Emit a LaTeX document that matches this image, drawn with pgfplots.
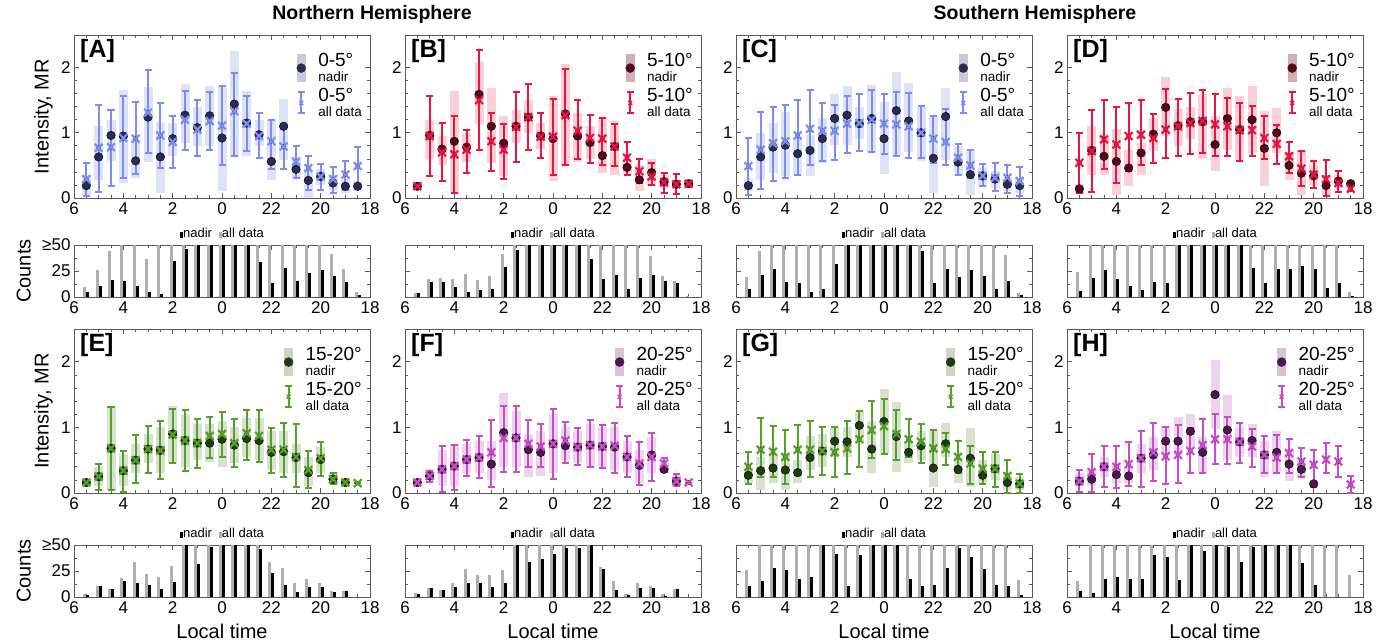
\documentclass[border=0pt]{standalone}
\usepackage{fontspec}
\setmainfont{Liberation Sans}
\usepackage{pgfplots}
\pgfplotsset{compat=1.18}
\usepackage{pgfplotstable}

\definecolor{allA}{RGB}{125,140,240}
\definecolor{nadA}{RGB}{42,42,85}
\definecolor{shA}{RGB}{221,226,246}
\definecolor{lgA}{RGB}{200,202,214}
\definecolor{allB}{RGB}{235,20,65}
\definecolor{nadB}{RGB}{85,10,25}
\definecolor{shB}{RGB}{249,208,216}
\definecolor{lgB}{RGB}{205,175,180}
\definecolor{allE}{RGB}{85,160,40}
\definecolor{nadE}{RGB}{30,60,15}
\definecolor{shE}{RGB}{216,224,208}
\definecolor{lgE}{RGB}{205,212,198}
\definecolor{allF}{RGB}{200,75,200}
\definecolor{nadF}{RGB}{75,25,75}
\definecolor{shF}{RGB}{237,212,237}
\definecolor{lgF}{RGB}{215,195,212}
\definecolor{frame}{RGB}{90,90,90}
\definecolor{cgray}{RGB}{175,175,175}

% intensity tables: x n nlo nhi (nadir, shaded range) a alo ahi (all data, error bar)
\pgfplotstableread{
x n nlo nhi a alo ahi
0.5 0.19 0.05 0.33 0.29 0.03 0.54
1.0 0.63 0.28 1.10 0.77 0.09 1.42
1.5 0.96 0.57 1.20 0.78 0.19 1.35
2.0 0.95 0.23 1.66 0.92 0.30 1.56
2.5 0.57 0.30 0.90 0.91 0.37 1.47
3.0 1.24 0.55 1.70 1.31 0.69 1.96
3.5 0.63 0.07 1.16 0.96 0.46 1.45
4.0 0.91 0.64 1.15 0.86 0.46 1.26
4.5 1.27 0.85 1.75 1.20 0.74 1.64
5.0 1.08 0.80 1.40 1.05 0.64 1.51
5.5 1.26 0.80 1.72 1.18 0.74 1.63
6.0 0.92 0.10 1.72 1.11 0.51 1.72
6.5 1.44 0.63 2.25 1.33 0.64 1.92
7.0 1.15 0.65 1.64 1.14 0.72 1.57
7.5 0.97 0.80 1.20 0.95 0.62 1.31
8.0 0.56 0.28 1.20 0.87 0.44 1.20
8.5 1.10 0.59 1.52 0.79 0.45 1.10
9.0 0.44 0.30 0.60 0.56 0.31 0.79
9.5 0.27 0.00 0.45 0.46 0.13 0.65
10.0 0.33 0.20 0.45 0.33 0.13 0.52
10.5 0.23 0.10 0.35 0.29 0.08 0.48
11.0 0.18 0.08 0.30 0.36 0.12 0.56
11.5 0.18 0.10 0.26 0.49 0.20 0.78
}\dA
\pgfplotstableread{
x n nlo nhi a alo ahi
0.5 0.18 0.15 0.21 0.18 0.15 0.21
1.0 0.96 0.60 1.20 0.95 0.34 1.57
1.5 0.75 0.50 0.95 0.70 0.26 1.15
2.0 0.87 0.08 1.64 0.67 0.08 1.26
2.5 0.78 0.55 1.00 0.74 0.39 1.04
3.0 1.59 1.13 2.08 1.50 0.73 2.27
3.5 1.10 0.54 1.69 0.87 0.42 1.31
4.0 0.84 0.33 1.26 0.74 0.29 1.14
4.5 1.10 0.85 1.35 1.09 0.55 1.63
5.0 1.24 1.00 1.50 1.24 0.74 1.75
5.5 0.95 0.75 1.15 0.94 0.62 1.31
6.0 0.91 0.26 1.56 0.94 0.36 1.52
6.5 1.29 0.51 2.06 1.27 0.51 1.98
7.0 0.95 0.55 1.30 1.03 0.60 1.50
7.5 0.85 0.60 1.10 0.92 0.54 1.28
8.0 0.65 0.38 1.22 0.91 0.51 1.22
8.5 0.79 0.36 1.18 0.79 0.49 1.13
9.0 0.47 0.35 0.60 0.62 0.36 0.86
9.5 0.28 0.10 0.50 0.41 0.23 0.60
10.0 0.39 0.20 0.60 0.33 0.20 0.53
10.5 0.25 0.15 0.35 0.24 0.08 0.39
11.0 0.21 0.15 0.28 0.21 0.06 0.37
11.5 0.22 0.18 0.26 0.22 0.18 0.26
}\dB
\pgfplotstableread{
x n nlo nhi a alo ahi
0.5 0.19 0.10 0.30 0.49 0.04 0.92
1.0 0.63 0.28 1.00 0.74 0.14 1.32
1.5 0.78 0.38 1.15 0.84 0.26 1.40
2.0 0.81 0.33 1.32 0.87 0.30 1.42
2.5 0.68 0.36 0.92 0.96 0.36 1.50
3.0 0.73 0.33 0.97 1.06 0.51 1.65
3.5 0.91 0.54 1.23 1.03 0.56 1.46
4.0 1.22 0.82 1.60 1.03 0.59 1.42
4.5 1.27 0.82 1.72 1.14 0.69 1.56
5.0 1.14 0.90 1.40 1.15 0.72 1.59
5.5 1.22 0.70 1.74 1.20 0.70 1.66
6.0 0.91 0.37 1.47 1.14 0.67 1.59
6.5 1.34 0.64 1.93 1.13 0.64 1.63
7.0 1.18 0.70 1.77 1.10 0.62 1.61
7.5 1.00 0.56 1.40 1.00 0.62 1.41
8.0 0.61 0.07 1.25 0.91 0.54 1.25
8.5 1.25 0.59 1.69 0.86 0.50 1.37
9.0 0.55 0.35 0.80 0.62 0.36 0.83
9.5 0.36 0.04 0.74 0.50 0.31 0.73
10.0 0.34 0.20 0.48 0.34 0.18 0.52
10.5 0.29 0.15 0.42 0.31 0.10 0.53
11.0 0.21 0.10 0.32 0.31 0.07 0.51
11.5 0.19 0.08 0.30 0.26 0.03 0.47
}\dC
\pgfplotstableread{
x n nlo nhi a alo ahi
0.5 0.14 0.06 0.22 0.54 0.08 1.00
1.0 0.73 0.36 1.10 0.72 0.09 1.35
1.5 0.64 0.35 0.95 0.90 0.44 1.50
2.0 0.56 0.05 1.06 0.82 0.23 1.39
2.5 0.46 0.18 0.74 0.95 0.41 1.46
3.0 0.69 0.35 0.85 0.97 0.51 1.51
3.5 0.98 0.72 1.23 0.92 0.54 1.29
4.0 1.39 0.95 1.85 1.05 0.62 1.67
4.5 1.11 0.79 1.36 1.10 0.64 1.52
5.0 1.17 0.90 1.40 1.15 0.67 1.61
5.5 1.17 0.60 1.60 1.18 0.69 1.66
6.0 0.82 0.41 1.26 1.13 0.65 1.59
6.5 1.22 0.74 1.69 1.10 0.65 1.54
7.0 1.05 0.59 1.56 1.04 0.56 1.45
7.5 1.20 0.69 1.72 1.04 0.64 1.41
8.0 0.76 0.18 1.33 0.92 0.60 1.26
8.5 1.00 0.69 1.38 0.83 0.52 1.12
9.0 0.50 0.27 0.70 0.64 0.38 0.86
9.5 0.38 0.04 0.74 0.45 0.18 0.72
10.0 0.34 0.20 0.50 0.36 0.15 0.57
10.5 0.19 0.05 0.35 0.29 0.03 0.58
11.0 0.26 0.15 0.35 0.23 0.09 0.41
11.5 0.22 0.18 0.26 0.14 0.10 0.23
}\dD
\pgfplotstableread{
x n nlo nhi a alo ahi
0.5 0.16 0.12 0.20 0.16 0.13 0.20
1.0 0.25 0.10 0.40 0.25 0.05 0.44
1.5 0.68 0.05 1.30 0.68 0.05 1.31
2.0 0.34 0.10 0.60 0.34 0.02 0.64
2.5 0.50 0.30 0.75 0.50 0.16 0.88
3.0 0.67 0.45 0.90 0.67 0.31 1.02
3.5 0.65 0.30 1.00 0.65 0.21 1.09
4.0 0.90 0.45 1.33 0.89 0.46 1.28
4.5 0.80 0.40 1.20 0.80 0.34 1.27
5.0 0.76 0.50 1.05 0.76 0.38 1.13
5.5 0.76 0.48 1.05 0.87 0.54 1.16
6.0 0.82 0.40 1.10 0.90 0.55 1.23
6.5 0.73 0.45 1.00 0.76 0.40 1.13
7.0 0.83 0.55 1.15 0.91 0.50 1.27
7.5 0.80 0.50 1.15 0.87 0.47 1.26
8.0 0.62 0.35 0.95 0.66 0.30 0.99
8.5 0.63 0.30 0.95 0.66 0.25 1.07
9.0 0.54 0.30 0.75 0.55 0.09 1.05
9.5 0.31 0.10 0.55 0.35 0.07 0.64
10.0 0.51 0.30 0.70 0.53 0.26 0.78
10.5 0.21 0.12 0.32 0.21 0.13 0.30
11.0 0.16 0.12 0.20 0.16 0.13 0.19
11.5 nan nan nan 0.15 0.15 0.15
}\dE
\pgfplotstableread{
x n nlo nhi a alo ahi
0.5 0.16 0.12 0.20 0.16 0.13 0.19
1.0 0.26 0.17 0.36 0.26 0.17 0.34
1.5 0.36 0.10 0.65 0.36 0.02 0.71
2.0 0.41 0.10 0.75 0.41 0.05 0.73
2.5 0.51 0.30 0.75 0.51 0.26 0.81
3.0 0.54 0.30 0.80 0.54 0.23 0.87
3.5 0.44 0.20 0.80 0.62 0.09 1.12
4.0 0.92 0.40 1.53 0.84 0.32 1.33
4.5 0.84 0.40 1.25 0.84 0.32 1.33
5.0 0.66 0.25 0.90 0.75 0.40 1.11
5.5 0.62 0.26 0.95 0.71 0.40 1.05
6.0 0.75 0.30 1.20 0.75 0.21 1.28
6.5 0.72 0.50 1.00 0.80 0.46 1.08
7.0 0.70 0.45 0.95 0.70 0.43 0.99
7.5 0.73 0.40 1.05 0.73 0.40 1.12
8.0 0.71 0.40 1.00 0.71 0.38 1.04
8.5 0.70 0.35 1.00 0.72 0.31 1.07
9.0 0.55 0.30 0.80 0.55 0.25 0.87
9.5 0.42 0.15 0.65 0.45 0.12 0.78
10.0 0.58 0.30 0.85 0.55 0.19 0.91
10.5 0.36 0.30 0.45 0.45 0.32 0.53
11.0 0.18 0.10 0.28 0.18 0.11 0.29
11.5 nan nan nan 0.16 0.16 0.16
}\dF
\pgfplotstableread{
x n nlo nhi a alo ahi
0.5 0.27 0.15 0.40 0.40 0.14 0.63
1.0 0.34 0.05 0.55 0.66 0.25 1.15
1.5 0.38 0.15 0.60 0.63 0.25 1.02
2.0 0.35 0.05 0.60 0.55 0.14 0.96
2.5 0.31 0.15 0.50 0.66 0.27 1.03
3.0 0.54 0.35 0.87 0.66 0.25 1.09
3.5 0.64 0.40 0.90 0.64 0.27 1.01
4.0 0.79 0.55 1.00 0.62 0.25 1.01
4.5 0.78 0.55 1.00 0.68 0.29 1.09
5.0 1.03 0.80 1.25 0.82 0.40 1.25
5.5 0.67 0.30 1.10 0.96 0.53 1.40
6.0 1.09 0.60 1.59 1.02 0.60 1.44
6.5 0.86 0.32 1.38 0.90 0.51 1.26
7.0 0.62 0.45 0.80 0.82 0.55 1.13
7.5 0.72 0.50 0.95 0.78 0.46 1.05
8.0 0.38 0.09 0.96 0.68 0.37 0.96
8.5 0.75 0.55 1.07 0.67 0.42 0.91
9.0 0.36 0.15 0.55 0.55 0.31 0.80
9.5 0.53 0.09 0.99 0.45 0.14 0.72
10.0 0.27 0.15 0.50 0.37 0.14 0.62
10.5 0.37 0.20 0.60 0.37 0.09 0.62
11.0 0.16 0.05 0.30 0.26 0.00 0.50
11.5 0.14 0.05 0.25 0.14 0.00 0.29
}\dG
\pgfplotstableread{
x n nlo nhi a alo ahi
0.5 0.18 0.10 0.30 0.18 0.02 0.35
1.0 0.21 0.10 0.35 0.32 0.02 0.60
1.5 0.40 0.25 0.55 0.40 0.09 0.71
2.0 0.28 0.15 0.45 0.40 0.07 0.71
2.5 0.26 0.15 0.40 0.44 0.11 0.78
3.0 0.53 0.30 0.75 0.53 0.09 0.94
3.5 0.58 0.35 0.85 0.62 0.18 1.06
4.0 0.79 0.58 1.02 0.56 0.14 1.00
4.5 0.79 0.58 1.16 0.58 0.15 1.03
5.0 0.94 0.70 1.20 0.64 0.30 0.99
5.5 0.62 0.30 0.85 0.73 0.30 1.13
6.0 1.50 0.98 2.03 0.82 0.44 1.21
6.5 0.96 0.50 1.50 0.82 0.44 1.16
7.0 0.78 0.55 1.00 0.78 0.45 1.06
7.5 0.80 0.55 1.05 0.71 0.40 0.98
8.0 0.58 0.25 0.80 0.58 0.30 0.87
8.5 0.62 0.30 0.95 0.54 0.30 0.89
9.0 0.44 0.18 0.65 0.61 0.30 0.82
9.5 0.36 0.25 0.50 0.48 0.25 0.69
10.0 0.14 0.10 0.18 0.43 0.09 0.65
10.5 nan nan nan 0.51 0.30 0.76
11.0 nan nan nan 0.48 0.25 0.71
11.5 nan nan nan 0.13 0.00 0.26
}\dH

% counts tables: x g (all data) b (nadir); 50 means >=50
\pgfplotstableread{
x g b
0.5 10 5
1.0 26 11
1.5 44 16
2.0 50 15
2.5 50 11
3.0 37 5
3.5 50 3
4.0 50 35
4.5 50 46
5.0 50 50
5.5 50 50
6.0 50 50
6.5 50 50
7.0 50 50
7.5 50 34
8.0 50 13
8.5 50 28
9.0 50 15
9.5 50 23
10.0 50 26
10.5 41 20
11.0 27 14
11.5 5 2
}\cA
\pgfplotstableread{
x g b
0.5 4 4
1.0 17 14
1.5 18 14
2.0 17 10
2.5 22 5
3.0 16 7
3.5 20 8
4.0 41 29
4.5 50 45
5.0 50 50
5.5 50 50
6.0 50 50
6.5 50 50
7.0 50 50
7.5 50 37
8.0 50 17
8.5 50 21
9.0 50 8
9.5 50 18
10.0 39 21
10.5 20 15
11.0 15 13
11.5 1 0
}\cB
\pgfplotstableread{
x g b
0.5 19 8
1.0 44 21
1.5 50 27
2.0 50 14
2.5 50 13
3.0 50 5
3.5 50 8
4.0 50 32
4.5 50 50
5.0 50 50
5.5 50 50
6.0 50 50
6.5 50 50
7.0 50 50
7.5 50 44
8.0 50 13
8.5 50 27
9.0 50 19
9.5 50 26
10.0 50 20
10.5 50 8
11.0 40 15
11.5 4 2
}\cC
\pgfplotstableread{
x g b
0.5 24 6
1.0 50 18
1.5 50 26
2.0 50 17
2.5 50 11
3.0 50 7
3.5 50 14
4.0 50 13
4.5 50 50
5.0 50 50
5.5 50 50
6.0 50 50
6.5 50 50
7.0 50 50
7.5 50 28
8.0 50 13
8.5 50 27
9.0 50 27
9.5 50 30
10.0 50 27
10.5 50 9
11.0 50 13
11.5 5 1
}\cD
\pgfplotstableread{
x g b
0.5 3 2
1.0 11 11
1.5 8 8
2.0 18 15
2.5 34 13
3.0 22 12
3.5 19 8
4.0 30 14
4.5 50 50
5.0 50 32
5.5 50 48
6.0 50 50
6.5 50 50
7.0 50 50
7.5 50 46
8.0 34 23
8.5 28 12
9.0 13 5
9.5 17 10
10.0 13 10
10.5 6 5
11.0 6 6
11.5 0 0
}\cE
\pgfplotstableread{
x g b
0.5 4 3
1.0 9 9
1.5 7 7
2.0 13 10
2.5 27 13
3.0 21 13
3.5 21 10
4.0 26 13
4.5 50 50
5.0 50 34
5.5 50 37
6.0 50 41
6.5 50 47
7.0 50 47
7.5 50 50
8.0 29 27
8.5 15 7
9.0 3 2
9.5 13 9
10.0 11 9
10.5 3 1
11.0 8 8
11.5 0 0
}\cF
\pgfplotstableread{
x g b
0.5 26 11
1.0 50 15
1.5 50 28
2.0 50 26
2.5 50 17
3.0 50 19
3.5 50 50
4.0 50 41
4.5 50 11
5.0 50 40
5.5 50 50
6.0 50 50
6.5 50 50
7.0 50 17
7.5 50 11
8.0 50 12
8.5 50 28
9.0 50 47
9.5 50 38
10.0 50 27
10.5 50 12
11.0 50 11
11.5 16 2
}\cG
\pgfplotstableread{
x g b
0.5 15 6
1.0 50 4
1.5 50 17
2.0 50 19
2.5 50 17
3.0 50 17
3.5 50 40
4.0 50 38
4.5 50 16
5.0 50 50
5.5 50 44
6.0 50 50
6.5 50 48
7.0 50 34
7.5 50 48
8.0 50 50
8.5 50 50
9.0 50 50
9.5 50 33
10.0 50 12
10.5 50 0
11.0 50 0
11.5 21 0
}\cH

\pgfplotsset{
  base/.style={scale only axis, width=296pt, anchor=south west,
    xmin=0, xmax=12, xtick={0,2,...,12}, xticklabels={6,4,2,0,22,20,18},
    minor x tick num=3,
    axis line style={draw=frame, line width=0.8pt},
    every tick/.style={draw=frame, line width=0.7pt},
    major tick length=5pt, minor tick length=3pt, tick align=inside,
    /pgf/number format/assume math mode=true,
    tick label style={font=\fontsize{17}{17}\selectfont},
    xticklabel style={yshift=-1pt},
  },
  intens/.style={base, height=163pt, ymin=0, ymax=2.5, ytick={0,1,2}, minor y tick num=4,
    legend style={at={(1,1)}, anchor=north east, xshift=-7pt, yshift=-17pt,
      draw=none, fill=none, inner sep=0pt, row sep=3pt,
      font=\fontsize{13.5}{15}\selectfont,
      cells={align=left, anchor=west}, nodes={inner sep=1pt}},
  },
  counts/.style={base, height=52pt, ymin=0, ymax=50, ytick={0,25,50}, minor y tick num=1,
    title={\textcolor{black}{\rule{3pt}{6pt}}nadir\hspace{7pt}\textcolor{cgray}{\rule{3pt}{6pt}}all data},
    title style={at={(0.5,1)}, anchor=south, yshift=0pt, inner sep=1pt, font=\fontsize{13}{13}\selectfont},
  },
  inty/.style={ylabel={Intensity, MR}, ylabel style={at={([xshift=-21pt]axis description cs:0,0.5)}, anchor=south, inner sep=0pt, font=\fontsize{20}{20}\selectfont}},
  cnty/.style={ylabel={Counts}, yticklabels={0,25,≥50}, ylabel style={at={([xshift=-43pt]axis description cs:0,0.5)}, anchor=south, inner sep=0pt, font=\fontsize{20}{20}\selectfont}},
  noy/.style={yticklabels={}},
  ltx/.style={xlabel={Local time}, xlabel style={at={([yshift=-27pt]axis description cs:0.5,0)}, anchor=north, inner sep=0pt, font=\fontsize{20}{20}\selectfont}},
}

\newcommand{\intpanel}[4]{%
  \addplot[only marks, mark=none, forget plot, error bars/.cd, y dir=both, y explicit, error mark=none,
    error bar style={draw=#4, line width=9pt}]
    table[x=x, y=n, y error plus expr=\thisrow{nhi}-\thisrow{n}, y error minus expr=\thisrow{n}-\thisrow{nlo}] {#1};
  \addplot[only marks, mark=none, forget plot, error bars/.cd, y dir=both, y explicit,
    error bar style={draw=#2, line width=2pt},
    error mark options={rotate=90, mark size=3.5pt, line width=2pt, draw=#2}]
    table[x=x, y=a, y error plus expr=\thisrow{ahi}-\thisrow{a}, y error minus expr=\thisrow{a}-\thisrow{alo}] {#1};
  \addplot[only marks, mark=*, mark size=4.3pt, forget plot, mark options={fill=#3, draw=none}] table[x=x, y=n] {#1};
  \addplot[only marks, mark=x, mark size=5.5pt, forget plot, mark options={draw=#2, line width=2.2pt}] table[x=x, y=a] {#1};
}
\newcommand{\leg}[4]{%
  \addlegendimage{legend image code/.code={\path[draw=none, fill=none] (0pt,0pt) -- (22pt,0pt); \fill[#1] (2pt,-13.5pt) rectangle (10pt,13.5pt); \fill[#2] (6pt,0pt) circle (4.5pt);}}
  \addlegendentry{{\fontsize{19}{19}\selectfont #4}\\nadir}
  \addlegendimage{legend image code/.code={\path[draw=none, fill=none] (0pt,0pt) -- (22pt,0pt); \draw[#3, line width=2pt] (6pt,-10.5pt) -- (6pt,10.5pt) (2.5pt,-10.5pt) -- (9.5pt,-10.5pt) (2.5pt,10.5pt) -- (9.5pt,10.5pt); \draw[#3, line width=1.4pt] (4pt,-2pt) -- (8pt,2pt) (4pt,2pt) -- (8pt,-2pt);}}
  \addlegendentry{{\fontsize{19}{19}\selectfont #4}\\all data}
}
\newcommand{\cntpanel}[1]{%
  \addplot[ycomb, line width=3pt, cgray, forget plot] table[x expr=\thisrow{x}-0.065, y=g] {#1};
  \addplot[ycomb, line width=3pt, black, forget plot] table[x expr=\thisrow{x}+0.065, y=b] {#1};
}
\newcommand{\plab}[1]{\node[anchor=north west, inner sep=0pt, font=\bfseries\fontsize{25}{25}\selectfont] at (rel axis cs:0,1) [xshift=6pt, yshift=-4pt] {[#1]};}

\begin{document}
\begin{tikzpicture}
\path[use as bounding box] (0,0) rectangle (1388pt,-644pt);
\node[font=\bfseries\fontsize{19.5}{20}\selectfont] at (372pt,-14pt) {Northern Hemisphere};
\node[font=\bfseries\fontsize{19.5}{20}\selectfont] at (1035pt,-14pt) {Southern Hemisphere};

% ---------- row 1 ----------
\begin{axis}[intens, inty, at={(74pt,-198pt)}]
  \intpanel{\dA}{allA}{nadA}{shA}
  \leg{lgA}{nadA}{allA}{0-5°}
  \plab{A}
\end{axis}
\begin{axis}[intens, at={(405pt,-198pt)}]
  \intpanel{\dB}{allB}{nadB}{shB}
  \leg{lgB}{nadB}{allB}{5-10°}
  \plab{B}
\end{axis}
\begin{axis}[intens, at={(736pt,-198pt)}]
  \intpanel{\dC}{allA}{nadA}{shA}
  \leg{lgA}{nadA}{allA}{0-5°}
  \plab{C}
\end{axis}
\begin{axis}[intens, at={(1067pt,-198pt)}]
  \intpanel{\dD}{allB}{nadB}{shB}
  \leg{lgB}{nadB}{allB}{5-10°}
  \plab{D}
\end{axis}

% ---------- row 2 ----------
\begin{axis}[counts, cnty, at={(74pt,-297pt)}]
  \cntpanel{\cA}
\end{axis}
\begin{axis}[counts, noy, at={(405pt,-297pt)}]
  \cntpanel{\cB}
\end{axis}
\begin{axis}[counts, noy, at={(736pt,-297pt)}]
  \cntpanel{\cC}
\end{axis}
\begin{axis}[counts, noy, at={(1067pt,-297pt)}]
  \cntpanel{\cD}
\end{axis}

% ---------- row 3 ----------
\begin{axis}[intens, inty, at={(74pt,-493pt)}, height=164pt]
  \intpanel{\dE}{allE}{nadE}{shE}
  \leg{lgE}{nadE}{allE}{15-20°}
  \plab{E}
\end{axis}
\begin{axis}[intens, at={(405pt,-493pt)}, height=164pt]
  \intpanel{\dF}{allF}{nadF}{shF}
  \leg{lgF}{nadF}{allF}{20-25°}
  \plab{F}
\end{axis}
\begin{axis}[intens, at={(736pt,-493pt)}, height=164pt]
  \intpanel{\dG}{allE}{nadE}{shE}
  \leg{lgE}{nadE}{allE}{15-20°}
  \plab{G}
\end{axis}
\begin{axis}[intens, at={(1067pt,-493pt)}, height=164pt]
  \intpanel{\dH}{allF}{nadF}{shF}
  \leg{lgF}{nadF}{allF}{20-25°}
  \plab{H}
\end{axis}

% ---------- row 4 ----------
\begin{axis}[counts, cnty, ltx, at={(74pt,-597pt)}]
  \cntpanel{\cE}
\end{axis}
\begin{axis}[counts, noy, ltx, at={(405pt,-597pt)}]
  \cntpanel{\cF}
\end{axis}
\begin{axis}[counts, noy, ltx, at={(736pt,-597pt)}]
  \cntpanel{\cG}
\end{axis}
\begin{axis}[counts, noy, ltx, at={(1067pt,-597pt)}]
  \cntpanel{\cH}
\end{axis}
\end{tikzpicture}
\end{document}
